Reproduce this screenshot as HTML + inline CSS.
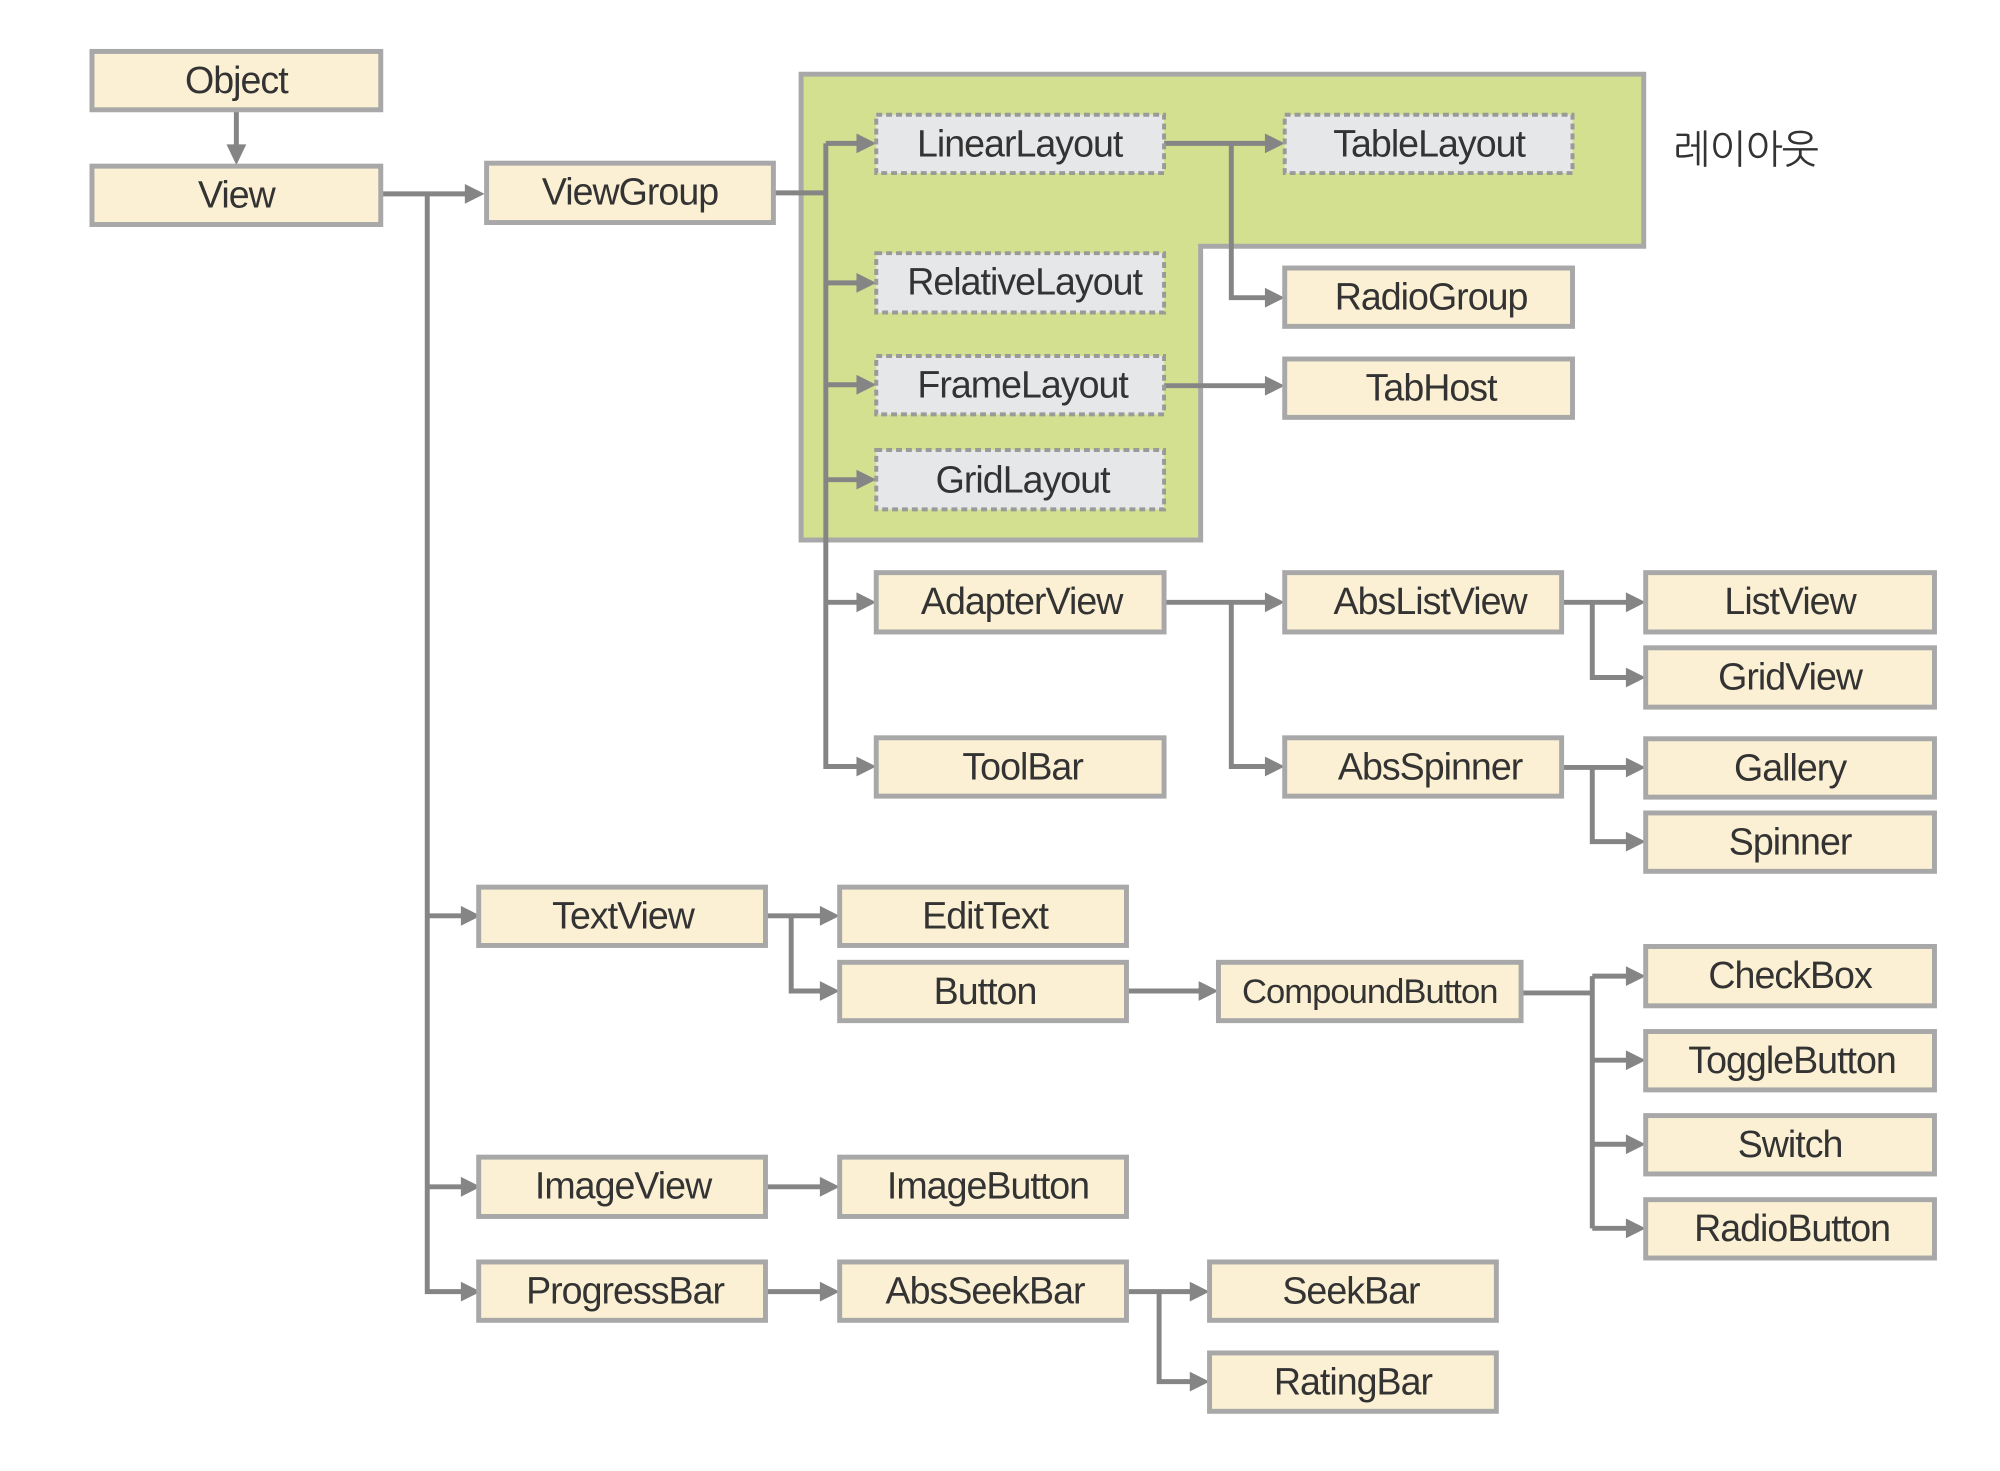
<!DOCTYPE html>
<html><head><meta charset="utf-8"><style>
html,body{margin:0;padding:0;background:#fff}
svg{display:block}
text{font-family:"Liberation Sans","NanumGothic",sans-serif;font-size:38px;fill:#333;text-anchor:middle;letter-spacing:-1px}
.b{fill:#fbf0d3;stroke:#a8a8a8;stroke-width:5}
.d{fill:#e6e7e9;stroke:#9a9a9a;stroke-width:4;stroke-dasharray:6 4}
.l{stroke:#858585;stroke-width:5;fill:none}
.a{fill:#858585}
</style></head><body>
<svg width="2000" height="1471" viewBox="0 0 2000 1471" xmlns="http://www.w3.org/2000/svg">
<g transform="scale(0.989)">
<polygon points="810,75 1662,75 1662,249 1214,249 1214,546 810,546" fill="#d3e08f" stroke="#a8a8a8" stroke-width="5"/>
<text x="1765" y="165" style="font-size:40px">레이아웃</text>

<g class="l">
<path d="M239 111V152"/>
<path d="M385 196H476 M432 196V1306H470 M432 926H470 M432 1200H470"/>
<path d="M782 195H835 M835 145V775H872 M835 145H872 M835 286H872 M835 389H872 M835 485H872 M835 609H872"/>
<path d="M1177 145H1285 M1245 145V301H1285"/>
<path d="M1177 390H1285"/>
<path d="M1177 609H1285 M1245 609V775H1285"/>
<path d="M1579 609H1650 M1610 609V685H1650"/>
<path d="M1579 776H1650 M1610 776V851H1650"/>
<path d="M774 926H835 M800 926V1002H835"/>
<path d="M1139 1002H1218"/>
<path d="M1538 1004H1610 M1610 987V1242 M1610 987H1650 M1610 1072H1650 M1610 1157H1650 M1610 1242H1650"/>
<path d="M774 1200H835"/>
<path d="M774 1306H835"/>
<path d="M1139 1306H1209 M1172 1306V1397H1209"/>
</g>
<g class="a">
<polygon points="229,146 249,146 239,167"/>
<polygon points="470,186 490,196 470,206"/>
<polygon points="466,916 486,926 466,936"/>
<polygon points="466,1190 486,1200 466,1210"/>
<polygon points="466,1296 486,1306 466,1316"/>
<polygon points="866,135 886,145 866,155"/>
<polygon points="866,276 886,286 866,296"/>
<polygon points="866,379 886,389 866,399"/>
<polygon points="866,475 886,485 866,495"/>
<polygon points="866,599 886,609 866,619"/>
<polygon points="866,765 886,775 866,785"/>
<polygon points="1279,135 1299,145 1279,155"/>
<polygon points="1279,291 1299,301 1279,311"/>
<polygon points="1279,380 1299,390 1279,400"/>
<polygon points="1279,599 1299,609 1279,619"/>
<polygon points="1279,765 1299,775 1279,785"/>
<polygon points="1644,599 1664,609 1644,619"/>
<polygon points="1644,675 1664,685 1644,695"/>
<polygon points="1644,766 1664,776 1644,786"/>
<polygon points="1644,841 1664,851 1644,861"/>
<polygon points="829,916 849,926 829,936"/>
<polygon points="829,992 849,1002 829,1012"/>
<polygon points="1212,992 1232,1002 1212,1012"/>
<polygon points="1644,977 1664,987 1644,997"/>
<polygon points="1644,1062 1664,1072 1644,1082"/>
<polygon points="1644,1147 1664,1157 1644,1167"/>
<polygon points="1644,1232 1664,1242 1644,1252"/>
<polygon points="829,1190 849,1200 829,1210"/>
<polygon points="829,1296 849,1306 829,1316"/>
<polygon points="1203,1296 1223,1306 1203,1316"/>
<polygon points="1203,1387 1223,1397 1203,1407"/>
</g>

<rect class="b" x="93" y="52" width="292" height="59"/><text x="239" y="94">Object</text>
<rect class="b" x="93" y="168" width="292" height="59"/><text x="239" y="210">View</text>
<rect class="b" x="492" y="165" width="290" height="60"/><text x="637" y="207">ViewGroup</text>

<rect class="d" x="886" y="116" width="291" height="59"/><text x="1031" y="158">LinearLayout</text>
<rect class="d" x="1299" y="116" width="291" height="59"/><text x="1445" y="158">TableLayout</text>
<rect class="d" x="886" y="256" width="291" height="60"/><text x="1036" y="298">RelativeLayout</text>
<rect class="d" x="886" y="360" width="291" height="59"/><text x="1034" y="402">FrameLayout</text>
<rect class="d" x="886" y="455" width="291" height="60"/><text x="1034" y="498">GridLayout</text>

<rect class="b" x="1299" y="271" width="291" height="59"/><text x="1447" y="313">RadioGroup</text>
<rect class="b" x="1299" y="363" width="291" height="59"/><text x="1447" y="405">TabHost</text>

<rect class="b" x="886" y="579" width="291" height="60"/><text x="1033" y="621">AdapterView</text>
<rect class="b" x="886" y="746" width="291" height="59"/><text x="1034" y="788">ToolBar</text>
<rect class="b" x="1299" y="579" width="280" height="60"/><text x="1446" y="621">AbsListView</text>
<rect class="b" x="1299" y="746" width="280" height="59"/><text x="1446" y="788">AbsSpinner</text>
<rect class="b" x="1664" y="579" width="292" height="60"/><text x="1810" y="621">ListView</text>
<rect class="b" x="1664" y="655" width="292" height="60"/><text x="1810" y="697">GridView</text>
<rect class="b" x="1664" y="747" width="292" height="59"/><text x="1810" y="789">Gallery</text>
<rect class="b" x="1664" y="822" width="292" height="59"/><text x="1810" y="864">Spinner</text>

<rect class="b" x="484" y="897" width="290" height="59"/><text x="630" y="939">TextView</text>
<rect class="b" x="849" y="897" width="290" height="59"/><text x="996" y="939">EditText</text>
<rect class="b" x="849" y="973" width="290" height="59"/><text x="996" y="1015">Button</text>
<rect class="b" x="1232" y="973" width="306" height="59"/><text x="1385" y="1014" style="font-size:35px">CompoundButton</text>
<rect class="b" x="1664" y="957" width="292" height="60"/><text x="1810" y="999">CheckBox</text>
<rect class="b" x="1664" y="1043" width="292" height="59"/><text x="1812" y="1085">ToggleButton</text>
<rect class="b" x="1664" y="1128" width="292" height="59"/><text x="1810" y="1170">Switch</text>
<rect class="b" x="1664" y="1213" width="292" height="59"/><text x="1812" y="1255">RadioButton</text>

<rect class="b" x="484" y="1170" width="290" height="60"/><text x="630" y="1212">ImageView</text>
<rect class="b" x="849" y="1170" width="290" height="60"/><text x="999" y="1212">ImageButton</text>
<rect class="b" x="484" y="1276" width="290" height="59"/><text x="632" y="1318">ProgressBar</text>
<rect class="b" x="849" y="1276" width="290" height="59"/><text x="996" y="1318">AbsSeekBar</text>
<rect class="b" x="1223" y="1276" width="290" height="59"/><text x="1366" y="1318">SeekBar</text>
<rect class="b" x="1223" y="1368" width="290" height="59"/><text x="1368" y="1410">RatingBar</text>
</g>
</svg>
</body></html>
